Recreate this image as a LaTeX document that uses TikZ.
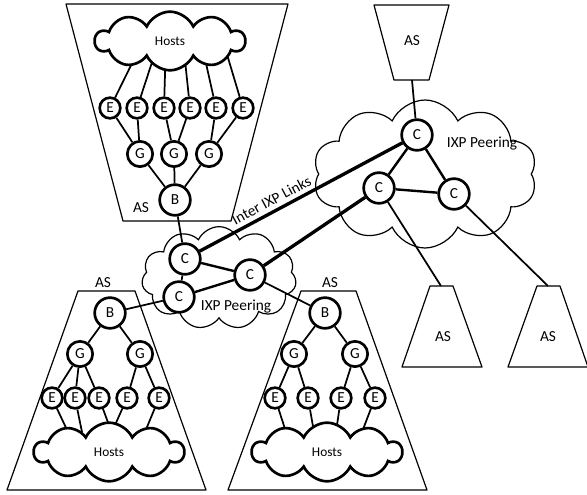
\documentclass[tikz,border=0pt]{standalone}
\usepackage{fontspec}
\setmainfont{Carlito}
\usetikzlibrary{shapes.symbols,backgrounds,calc}
\begin{document}
\begin{tikzpicture}[
  x = 0.75pt, y = -0.75pt,
  every node/.style = {font = \fontsize{11.5}{13}\selectfont, inner sep = 0pt},
  rnode/.style = {draw, circle, fill = white, line width = 2pt, minimum size = #1},
  enode/.style = {rnode = 15.5pt},
  gnode/.style = {rnode = 19pt},
  bnode/.style = {rnode = 23pt},
  cnode/.style = {rnode = 23pt},
  hosts/.style = {draw, cloud, cloud puffs = 10, cloud puff arc = 130, cloud ignores aspect,
    fill = white, line width = 2pt, minimum width = 112pt, minimum height = 44pt,
    font = \fontsize{10}{12}\selectfont},
  ixp/.style = {draw, cloud, cloud puffs = #1, cloud puff arc = 130, cloud ignores aspect,
    line width = 0.9pt},
  asline/.style = {line width = 0.9pt, line join = round},
  tree/.style = {line width = 1.3pt},
  cpeer/.style = {line width = 1.8pt},
  ixplink/.style = {line width = 2.5pt}
  ]
  \useasboundingbox (0,0) rectangle (587,495);

  % top left AS
  \draw[asline] (66,4) -- (288,4) -- (231,221) -- (123,221) -- cycle;
  \node (tas) at (141,208) {AS};
  \node[hosts] (th) at (170,41) {Hosts};
  \foreach \i/\x in {1/110,2/137,3/164,4/190,5/216,6/243}
    \node[enode] (te\i) at (\x,108) {E};
  \foreach \i/\x in {1/140,2/174,3/209}
    \node[gnode] (tg\i) at (\x,154) {G};
  \node[bnode] (tb) at (175,200) {B};
  \foreach \g/\e in {1/1,1/2,2/3,2/4,3/5,3/6}
    \draw[tree] (tg\g) -- (te\e);
  \foreach \g in {1,2,3}
    \draw[tree] (tb) -- (tg\g);

  % bottom left AS
  \draw[asline] (78,291) -- (135,291) -- (206,490) -- (7,490) -- cycle;
  \node (las) at (103,283) {AS};
  \node[hosts] (lh) at (109,452) {Hosts};
  \foreach \i/\x in {1/52,2/75,3/99,4/127,5/159}
    \node[enode] (le\i) at (\x,398) {E};
  \foreach \i/\x in {1/80,2/140}
    \node[gnode] (lg\i) at (\x,354) {G};
  \node[bnode] (lb) at (110,313) {B};
  \foreach \g/\e in {1/1,1/2,1/3,2/4,2/5}
    \draw[tree] (lg\g) -- (le\e);
  \foreach \g in {1,2}
    \draw[tree] (lb) -- (lg\g);

  % bottom middle AS
  \draw[asline] (301,291) -- (356,291) -- (427,490) -- (228,490) -- cycle;
  \node (mas) at (330,283) {AS};
  \node[hosts] (mh) at (327,452) {Hosts};
  \foreach \i/\x in {1/275,2/308,3/341,4/375}
    \node[enode] (me\i) at (\x,398) {E};
  \foreach \i/\x in {1/294,2/355}
    \node[gnode] (mg\i) at (\x,354) {G};
  \node[bnode] (mb) at (325,313) {B};
  \foreach \g/\e in {1/1,1/2,2/3,2/4}
    \draw[tree] (mg\g) -- (me\e);
  \foreach \g in {1,2}
    \draw[tree] (mb) -- (mg\g);

  % hosts links, under the clouds
  \begin{scope}[on background layer]
    \foreach \i/\dx in {1/-27,2/-11,3/-4,4/13,5/31,6/53}
      \draw[tree] (te\i) -- ($(th.center)+(\dx,0)$);
    \foreach \i/\dx in {1/-41,2/-27,3/2.5,4/3,5/36}
      \draw[tree] (le\i) -- ($(lh.center)+(\dx,-20)$);
    \foreach \i/\dx in {1/-41,2/-13,3/9,4/35}
      \draw[tree] (me\i) -- ($(mh.center)+(\dx,-20)$);
  \end{scope}

  % other AS
  \draw[asline] (374,5) -- (449,5) -- (429,80) -- (394,80) -- cycle;
  \node (ras) at (412,41) {AS};
  \coordinate (rasb) at (412,80);
  \draw[asline] (430,286) -- (453,286) -- (482,367) -- (402,367) -- cycle;
  \node (sas1) at (443,337) {AS};
  \coordinate (sast1) at (441,286);
  \draw[asline] (537,286) -- (560,286) -- (588,367) -- (508,367) -- cycle;
  \node (sas2) at (548,337) {AS};
  \coordinate (sast2) at (548,286);

  % IXPs
  \node[ixp = 10, minimum width = 168pt, minimum height = 111pt] (rix) at (425,174) {};
  \node (rixl) at (482,144) {IXP Peering};
  \node[ixp = 11, minimum width = 116pt, minimum height = 77pt] (lix) at (219,278) {};
  \node (lixl) at (236,307) {IXP Peering};
  \node[cnode] (c1) at (417,135) {C};
  \node[cnode] (c2) at (379,188) {C};
  \node[cnode] (c3) at (454,194) {C};
  \node[cnode] (ca) at (185,259) {C};
  \node[cnode] (cb) at (250,275) {C};
  \node[cnode] (cc) at (179,297) {C};

  \draw[cpeer] (c1) -- (c2);
  \draw[cpeer] (c1) -- (c3);
  \draw[cpeer] (c2) -- (c3);
  \draw[cpeer] (ca) -- (cb);
  \draw[cpeer] (cb) -- (cc);
  \draw[tree] (ca) -- (cc);
  \draw[ixplink] (ca) -- node[sloped, above, inner sep = 3pt, pos = 0.38] {Inter IXP Links} (c1);
  \draw[ixplink] (cb) -- (c2);

  \draw[tree] (rasb) -- (c1);
  \draw[tree] (c2) -- (sast1);
  \draw[tree] (c3) -- (sast2);
  \draw[tree] (tb) -- (ca);
  \draw[tree] (lb) -- (cc);
  \draw[tree] (cb) -- (mb);
\end{tikzpicture}
\end{document}
